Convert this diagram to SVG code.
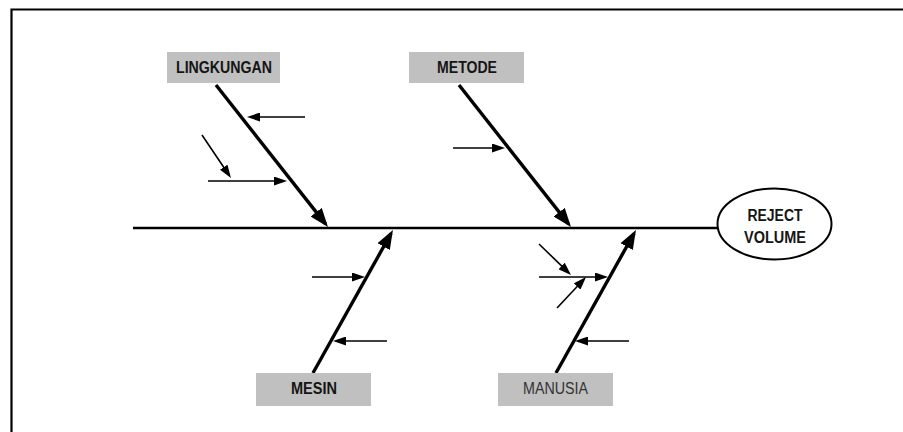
<svg xmlns="http://www.w3.org/2000/svg" width="903" height="432" viewBox="0 0 903 432">
<style>
.bg{fill:#ffffff}
.frame{fill:none;stroke:#000;stroke-width:2.2}
.spine{stroke:#000;stroke-width:2.6;fill:none}
.bone{stroke:#000;stroke-width:3.4;fill:none;marker-end:url(#big)}
.sub{stroke:#000;stroke-width:1.6;fill:none;marker-end:url(#small)}
.box{fill:#c0c0c0}
.lbl{font-family:"Liberation Sans",Arial,sans-serif;font-size:16px;font-weight:bold;fill:#151515;text-anchor:middle}
.lbl2{font-family:"Liberation Sans",Arial,sans-serif;font-size:16px;font-weight:normal;fill:#333;text-anchor:middle}
.head{fill:#fff;stroke:#000;stroke-width:2}
</style>
<defs>
<marker id="big" markerUnits="userSpaceOnUse" markerWidth="20" markerHeight="14" viewBox="0 0 20 14" refX="15" refY="7" orient="auto">
<path d="M0,0 L19,7 L0,14 z" fill="#000"/>
</marker>
<marker id="small" markerUnits="userSpaceOnUse" markerWidth="13" markerHeight="9" viewBox="0 0 13 9" refX="10" refY="4.5" orient="auto">
<path d="M0,0 L13,4.5 L0,9 z" fill="#000"/>
</marker>
</defs>
<rect class="bg" x="0" y="0" width="903" height="432"/>
<path class="frame" d="M11.5,432 L11.5,9.5 L903,9.5"/>

<g id="connectors">
<line class="spine" x1="133" y1="228" x2="718" y2="228"/>
<line class="bone" x1="216" y1="85" x2="325.5" y2="223.9"/>
<line class="bone" x1="459" y1="85" x2="568.5" y2="223.9"/>
<line class="bone" x1="313" y1="373" x2="391" y2="233.5"/>
<line class="bone" x1="556" y1="373" x2="634" y2="233.5"/>
<line class="sub" x1="305" y1="117" x2="250" y2="117"/>
<line class="sub" x1="208" y1="181" x2="284" y2="181"/>
<line class="sub" x1="202" y1="135" x2="229.3" y2="175.5"/>
<line class="sub" x1="453" y1="148" x2="502" y2="148"/>
<line class="sub" x1="312" y1="277" x2="362" y2="277"/>
<line class="sub" x1="387" y1="341" x2="336" y2="341"/>
<line class="sub" x1="539" y1="277" x2="605" y2="277"/>
<line class="sub" x1="539" y1="244" x2="568.8" y2="272.9"/>
<line class="sub" x1="557" y1="308" x2="584" y2="279.2"/>
<line class="sub" x1="629" y1="341" x2="578" y2="341"/>
</g>

<g id="lingkungan">
<rect class="box" x="167" y="52" width="113" height="31"/>
<text class="lbl" x="224" y="73" textLength="96" lengthAdjust="spacingAndGlyphs">LINGKUNGAN</text>
</g>
<g id="metode">
<rect class="box" x="409" y="52" width="115" height="31"/>
<text class="lbl" x="467" y="73" textLength="60" lengthAdjust="spacingAndGlyphs">METODE</text>
</g>
<g id="mesin">
<rect class="box" x="256" y="373" width="115" height="33"/>
<text class="lbl" x="314" y="394" textLength="46" lengthAdjust="spacingAndGlyphs">MESIN</text>
</g>
<g id="manusia">
<rect class="box" x="498" y="373" width="115" height="33"/>
<text class="lbl2" x="555.5" y="394" textLength="65" lengthAdjust="spacingAndGlyphs">MANUSIA</text>
</g>
<g id="reject-volume">
<ellipse class="head" cx="774.5" cy="224" rx="57" ry="35.5"/>
<text class="lbl" x="775" y="220.5" textLength="55" lengthAdjust="spacingAndGlyphs">REJECT</text>
<text class="lbl" x="775" y="242.5" textLength="62" lengthAdjust="spacingAndGlyphs">VOLUME</text>
</g>
</svg>
